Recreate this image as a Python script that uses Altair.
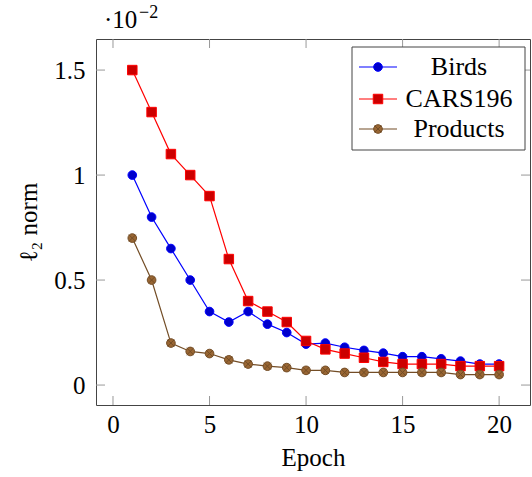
import altair as alt
import pandas as pd

# ---- data (values in units of 1e-2) ----
epochs = list(range(1, 21))
birds = [1.0, 0.8, 0.65, 0.5, 0.35, 0.3, 0.35, 0.29, 0.25, 0.195,
         0.2, 0.18, 0.165, 0.152, 0.135, 0.135, 0.125, 0.114, 0.10, 0.10]
cars = [1.5, 1.3, 1.1, 1.0, 0.9, 0.6, 0.4, 0.35, 0.3, 0.21,
        0.17, 0.15, 0.13, 0.11, 0.10, 0.10, 0.10, 0.09, 0.09, 0.09]
products = [0.7, 0.5, 0.2, 0.16, 0.15, 0.12, 0.10, 0.09, 0.083, 0.07,
            0.07, 0.06, 0.06, 0.06, 0.06, 0.06, 0.06, 0.05, 0.05, 0.05]
series_names = ["Birds", "CARS196", "Products"]
x_ticks = [0, 5, 10, 15, 20]
y_ticks = [0, 0.5, 1, 1.5]
x_title = "Epoch"
y_title = "ℓ₂ norm"
exponent_base = "·10"
exponent_power = "−2"

# ---- styles ----
FONT = "Liberation Serif"
FS = 25
W, H = 434, 366
line_colors = ["#0000ff", "#ff0000", "#734d26"]
fill_colors = ["#0000cc", "#cc0000", "#996633"]
shapes = ["circle", "square", "circle"]
sizes = [75, 90, 75]
X_DOMAIN = [-0.88, 21.6]
Y_DOMAIN = [-0.095, 1.648]
TICK_COLOR = "#999999"
TICK_LEN = 9
CROSS = "M-0.8,-0.8L0.8,0.8M-0.8,0.8L0.8,-0.8"

x_scale = alt.Scale(domain=X_DOMAIN, nice=False, zero=False)
y_scale = alt.Scale(domain=Y_DOMAIN, nice=False, zero=False)

x_axis = alt.Axis(values=x_ticks, ticks=False, domain=False, grid=False,
                  labelFont=FONT, labelFontSize=FS, labelColor="black",
                  labelBaseline="alphabetic", labelPadding=27, labelFlush=False,
                  title=x_title, titleFont=FONT, titleFontSize=FS,
                  titleFontWeight="normal", titleColor="black",
                  titleBaseline="alphabetic", titleY=60)
y_axis = alt.Axis(values=y_ticks, ticks=False, domain=False, grid=False,
                  labelFont=FONT, labelFontSize=FS, labelColor="black",
                  labelExpr="datum.value + ''", labelPadding=11,
                  labelBaseline="middle", labelFlush=False,
                  title=y_title, titleFont=FONT, titleFontSize=FS,
                  titleFontWeight="normal", titleColor="black",
                  titleAngle=270, titleAlign="center", titleBaseline="middle",
                  titleX=-68, titleY=H / 2)

layers = []

# inside tick marks on all four sides
xt_df = pd.DataFrame({"t": x_ticks})
yt_df = pd.DataFrame({"t": y_ticks})
tick_rule = dict(color=TICK_COLOR, strokeWidth=1)
layers.append(alt.Chart(xt_df).mark_rule(**tick_rule).encode(
    x=alt.X("t:Q", scale=x_scale, axis=x_axis), y=alt.value(H), y2=alt.value(H - TICK_LEN)))
layers.append(alt.Chart(xt_df).mark_rule(**tick_rule).encode(
    x=alt.X("t:Q", scale=x_scale, axis=x_axis), y=alt.value(0), y2=alt.value(TICK_LEN)))
layers.append(alt.Chart(yt_df).mark_rule(**tick_rule).encode(
    y=alt.Y("t:Q", scale=y_scale, axis=y_axis), x=alt.value(0), x2=alt.value(TICK_LEN)))
layers.append(alt.Chart(yt_df).mark_rule(**tick_rule).encode(
    y=alt.Y("t:Q", scale=y_scale, axis=y_axis), x=alt.value(W), x2=alt.value(W - TICK_LEN)))

# data series
series_values = [birds, cars, products]
for i, (name, vals) in enumerate(zip(series_names, series_values)):
    df = pd.DataFrame({"epoch": epochs, "value": vals, "series": name})
    base = alt.Chart(df).encode(
        x=alt.X("epoch:Q", scale=x_scale, axis=x_axis),
        y=alt.Y("value:Q", scale=y_scale, axis=y_axis),
    )
    layers.append(base.mark_line(color=line_colors[i], strokeWidth=1.2))
    layers.append(base.mark_point(shape=shapes[i], size=sizes[i], filled=True,
                                  fill=fill_colors[i], stroke=line_colors[i],
                                  strokeWidth=1, opacity=1))
    if i == 2:
        layers.append(base.mark_point(shape=CROSS, size=sizes[i], filled=False,
                                      stroke=line_colors[i], strokeWidth=1, opacity=1))

# legend (manual, pgfplots style)
box_df = pd.DataFrame({"k": [0]})
layers.append(alt.Chart(box_df).mark_rect(fill="white", stroke="#444444", strokeWidth=1).encode(
    x=alt.value(256), x2=alt.value(429), y=alt.value(8), y2=alt.value(111)))
leg_y = [28, 60, 90]
for i, name in enumerate(series_names):
    row = pd.DataFrame({"name": [name]})
    yy = leg_y[i]
    layers.append(alt.Chart(row).mark_rule(color=line_colors[i], strokeWidth=1.2).encode(
        x=alt.value(263), x2=alt.value(301), y=alt.value(yy)))
    layers.append(alt.Chart(row).mark_point(shape=shapes[i], size=sizes[i], filled=True,
                                            fill=fill_colors[i], stroke=line_colors[i],
                                            strokeWidth=1, opacity=1).encode(
        x=alt.value(282), y=alt.value(yy)))
    if i == 2:
        layers.append(alt.Chart(row).mark_point(shape=CROSS, size=sizes[i], filled=False,
                                                stroke=line_colors[i], strokeWidth=1,
                                                opacity=1).encode(
            x=alt.value(282), y=alt.value(yy)))
    layers.append(alt.Chart(row).mark_text(font=FONT, fontSize=26, align="center",
                                           baseline="middle", color="black").encode(
        x=alt.value(363), y=alt.value(yy), text="name:N"))

# exponent label
exp_df = pd.DataFrame({"b": [exponent_base], "p": [exponent_power]})
layers.append(alt.Chart(exp_df).mark_text(font=FONT, fontSize=FS, align="left",
                                          baseline="alphabetic", color="black").encode(
    x=alt.value(8), y=alt.value(-11), text="b:N"))
layers.append(alt.Chart(exp_df).mark_text(font=FONT, fontSize=18, align="left",
                                          baseline="alphabetic", color="black").encode(
    x=alt.value(43), y=alt.value(-21), text="p:N"))

chart = alt.layer(*layers).properties(
    width=W, height=H,
    autosize=alt.AutoSizeParams(type="none"),
    padding={"left": 96, "top": 39, "right": 2, "bottom": 72},
    background="white",
).configure_view(stroke="#444444", strokeWidth=1)

chart.save("out.html", embed_options={"renderer": "svg", "actions": False})
